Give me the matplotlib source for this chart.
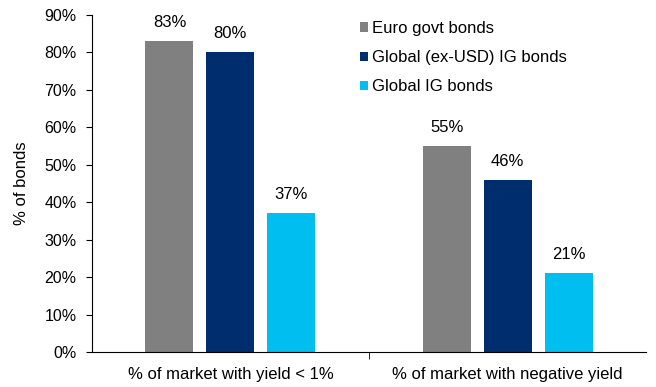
import matplotlib
matplotlib.use("Agg")
import matplotlib.pyplot as plt
import numpy as np
from matplotlib.ticker import FuncFormatter, FixedLocator

plt.rcParams['font.family'] = ['Liberation Sans', 'DejaVu Sans']

categories = ["% of market with yield < 1%", "% of market with negative yield"]
series_names = ["Euro govt bonds", "Global (ex-USD) IG bonds", "Global IG bonds"]
euro_govt = [83, 55]
global_exusd = [80, 46]
global_ig = [37, 21]
values = [euro_govt, global_exusd, global_ig]
colors = ["#808080", "#002D6E", "#00BFF0"]

fig = plt.figure(figsize=(6.56, 3.87), dpi=100)
ax = fig.add_axes([0.140, 0.0904, 0.845, 0.871])

x = np.arange(len(categories))
width = 0.173
offsets = [-0.22, 0.0, 0.22]
for vals, name, c, off in zip(values, series_names, colors, offsets):
    bars = ax.bar(x + off, vals, width, color=c, label=name)
    for b, v in zip(bars, vals):
        ax.annotate(f"{v}%", (b.get_x() + b.get_width() / 2, v),
                    xytext=(0, 8), textcoords="offset points",
                    ha="center", va="bottom", fontsize=12)

ax.set_xlim(-0.5, 1.5)
ax.set_ylim(0, 90)
ax.set_yticks(np.arange(0, 91, 10))
ax.yaxis.set_major_formatter(FuncFormatter(lambda v, p: f"{int(v)}%"))
ax.set_xticks(x)
ax.set_xticklabels(categories, fontsize=12)
ax.tick_params(axis="x", length=0, pad=10.5)
ax.xaxis.set_minor_locator(FixedLocator([0.5]))
ax.tick_params(axis="x", which="minor", length=5, direction="out")
ax.tick_params(axis="y", length=4, direction="out", labelsize=11.5, pad=7)
ax.spines["top"].set_visible(False)
ax.spines["right"].set_visible(False)
ax.spines["left"].set_color("#000000")
ax.spines["bottom"].set_color("#000000")
ax.set_ylabel("% of bonds", fontsize=12, labelpad=11)

leg = ax.legend(loc="upper left", bbox_to_anchor=(360 / 656, 1 - 21 / 387),
                bbox_transform=fig.transFigure, frameon=False, fontsize=12,
                handlelength=0.5, handleheight=0.5, handletextpad=0.25,
                labelspacing=0.85, borderaxespad=0, borderpad=0)

fig.savefig("out.png", dpi=100)
